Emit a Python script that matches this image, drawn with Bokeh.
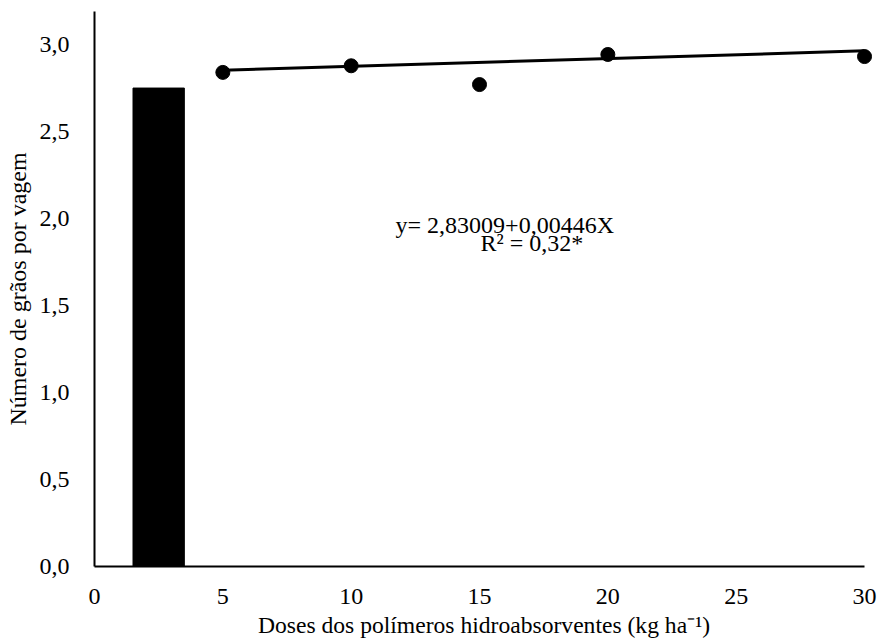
from bokeh.plotting import figure
from bokeh.models import Range1d, FixedTicker, Label
from bokeh.embed import file_html
from bokeh.resources import INLINE

# Data
bar_x = [2.5]
bar_top = [2.75]
doses = [5, 10, 15, 20, 30]
graos = [2.84, 2.878, 2.77, 2.943, 2.931]
coef_a = 2.83009
coef_b = 0.00446
trend_x = [5, 30]
trend_y = [coef_a + coef_b * x for x in trend_x]
x_ticks = [0, 5, 10, 15, 20, 25, 30]
y_ticks = [0.0, 0.5, 1.0, 1.5, 2.0, 2.5, 3.0]
y_tick_labels = ["0,0", "0,5", "1,0", "1,5", "2,0", "2,5", "3,0"]
eq_text = "y= 2,83009+0,00446X"
r2_text = "R² = 0,32*"

FONT = "'Liberation Serif', 'Times New Roman', serif"
FS = "24px"

p = figure(width=881, height=643, output_backend="svg", toolbar_location=None,
           x_range=Range1d(0, 30.35), y_range=Range1d(0, 3.19),
           min_border_left=94, min_border_right=8, min_border_top=11, min_border_bottom=77)
p.outline_line_color = None
p.xgrid.visible = False
p.ygrid.visible = False

p.vbar(x=bar_x, top=bar_top, width=2.0, color="black")
p.line(trend_x, trend_y, line_color="black", line_width=3)
p.scatter(doses, graos, size=14, color="black")

for ax in (p.xaxis[0], p.yaxis[0]):
    ax.axis_line_color = "black"
    ax.axis_line_width = 2
    ax.major_tick_line_color = None
    ax.minor_tick_line_color = None
    ax.major_label_text_font = FONT
    ax.major_label_text_font_size = FS
    ax.major_label_text_color = "black"
    ax.axis_label_text_font = FONT
    ax.axis_label_text_font_size = FS
    ax.axis_label_text_font_style = "normal"
    ax.axis_label_text_color = "black"

p.xaxis.bounds = (0, 30)
p.xaxis.ticker = FixedTicker(ticks=x_ticks)
p.xaxis.major_label_standoff = 16
p.xaxis.axis_label = "Doses dos polímeros hidroabsorventes (kg ha⁻¹)"
p.xaxis.axis_label_standoff = 5
p.xaxis.axis_label_text_font_size = "23.6px"

p.yaxis.ticker = FixedTicker(ticks=y_ticks)
p.yaxis.major_label_overrides = {t: l for t, l in zip(y_ticks, y_tick_labels)}
p.yaxis.major_label_standoff = 19
p.yaxis.axis_label = "Número de grãos por vagem"
p.yaxis.axis_label_standoff = 6

p.add_layout(Label(x=11.73, y=1.96, text=eq_text, text_font=FONT, text_font_size=FS,
                   text_baseline="middle", text_color="black"))
p.add_layout(Label(x=15.04, y=1.862, text=r2_text, text_font=FONT, text_font_size=FS,
                   text_baseline="middle", text_color="black"))

open("out.html", "w").write(file_html(p, INLINE))
